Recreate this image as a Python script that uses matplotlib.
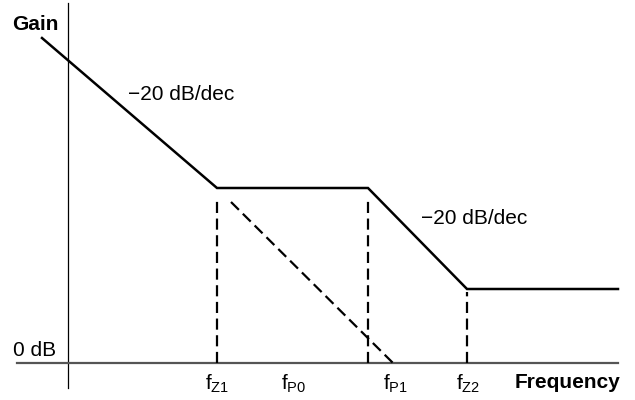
import matplotlib
matplotlib.use("Agg")
import matplotlib.pyplot as plt

plt.rcParams['font.family'] = ['Liberation Sans', 'DejaVu Sans']
plt.rcParams['mathtext.fontset'] = 'custom'
plt.rcParams['mathtext.rm'] = 'Liberation Sans'
plt.rcParams['mathtext.it'] = 'Liberation Sans'

# Asymptotic gain curve (frequency position, gain position; arbitrary linear units)
curve_freq = [42, 217, 368, 467, 618]
curve_gain = [325, 175, 175, 74, 74]

# Dashed helper lines
marker_freq = [217, 368, 467]          # fZ1, fP1, fZ2 verticals
marker_top = [165, 165, 71]
asym_freq = [231, 393]                  # fP0 asymptote
asym_gain = [161, 0]

tick_labels = [r'f$_{\mathrm{Z1}}$', r'f$_{\mathrm{P0}}$', r'f$_{\mathrm{P1}}$', r'f$_{\mathrm{Z2}}$']
tick_pos = [217, 294, 396, 468]

fig = plt.figure(figsize=(6.35, 4.0), dpi=100)
ax = fig.add_axes([0, 0, 1, 1])
ax.set_xlim(0, 635)
ax.set_ylim(-37, 363)
ax.axis('off')

# axes lines
ax.plot([68, 68], [-25, 360], color='black', lw=0.9)
ax.plot([17, 618], [0, 0], color='#555555', lw=1.6)

ax.plot(curve_freq, curve_gain, color='black', lw=1.8, solid_joinstyle='miter')

for f, t in zip(marker_freq, marker_top):
    ax.plot([f, f], [0, t], color='black', lw=1.6, linestyle=(0, (5, 2.5)))
ax.plot(asym_freq, asym_gain, color='black', lw=1.6, linestyle=(0, (5, 2.5)))

fs = 15
ax.text(12, 339, 'Gain', fontsize=fs, fontweight='bold', ha='left', va='center')
ax.text(128, 268, '\u221220 dB/dec', fontsize=fs, ha='left', va='center')
ax.text(421, 145, '\u221220 dB/dec', fontsize=fs, ha='left', va='center')
ax.text(13, 13, '0 dB', fontsize=fs, ha='left', va='center')
ax.text(620, -19, 'Frequency', fontsize=fs, fontweight='bold', ha='right', va='center')
for lab, p in zip(tick_labels, tick_pos):
    ax.text(p, -21, lab, fontsize=fs, ha='center', va='center')

fig.savefig('out.png', dpi=100)
